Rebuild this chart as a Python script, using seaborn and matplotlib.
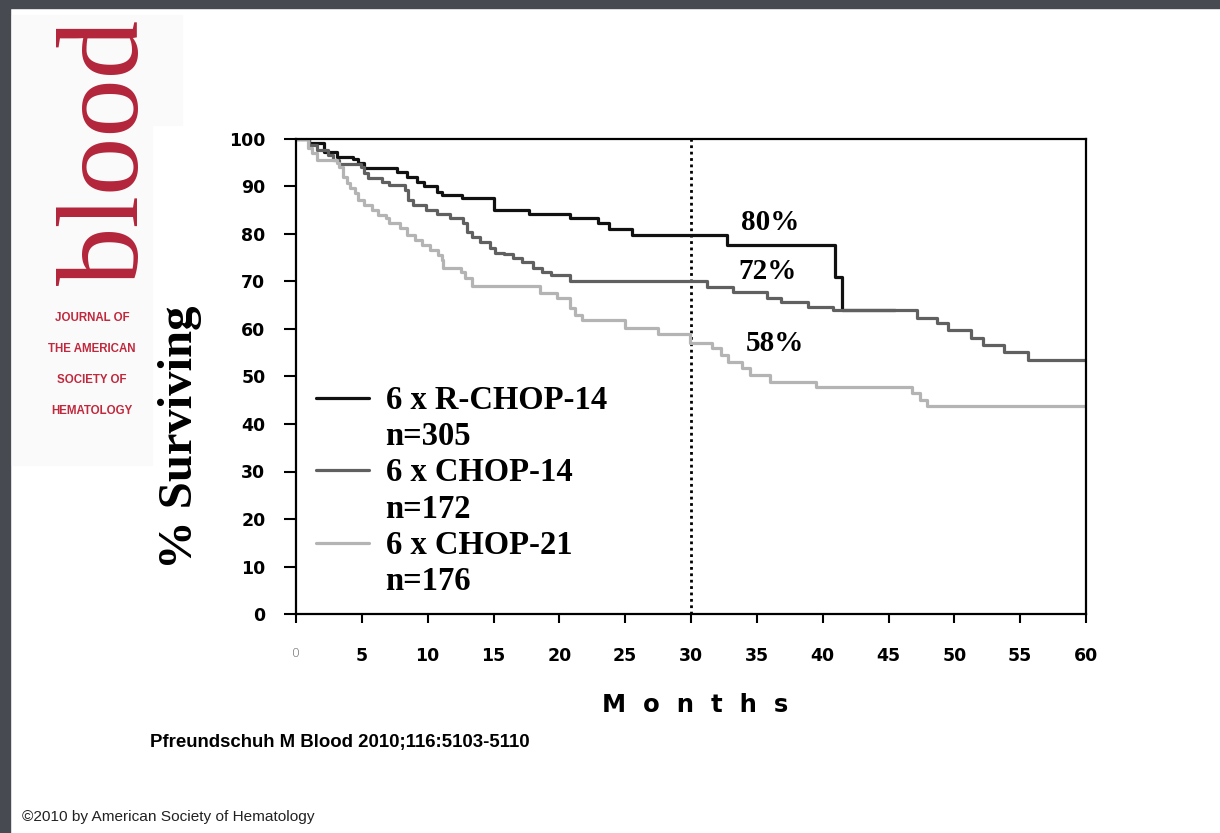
import matplotlib
matplotlib.use("Agg")
import matplotlib.pyplot as plt
import seaborn as sns
import pandas as pd
from matplotlib.lines import Line2D
from matplotlib.patches import Rectangle

# ---------------- data ----------------
groups = ["6 x R-CHOP-14", "6 x CHOP-14", "6 x CHOP-21"]
n_labels = ["n=305", "n=172", "n=176"]
colors = ["#111111", "#606060", "#b4b4b4"]

rchop14_t = [0, 1.0, 2.1, 3.1, 4.3, 4.7, 5.2, 7.7, 8.4, 9.2, 9.7, 10.7, 11.1, 12.6,
             15.0, 17.7, 20.8, 22.9, 23.8, 25.5, 32.7, 40.9, 41.5, 45.5]
rchop14_s = [100, 99.2, 97.3, 96.2, 95.8, 95.0, 93.9, 93.0, 92.0, 91.0, 90.0, 88.8, 88.2, 87.6,
             85.0, 84.2, 83.4, 82.3, 81.0, 79.8, 77.7, 71.0, 64.0, 64.0]

chop14_t = [0, 1.0, 1.6, 2.4, 2.8, 3.3, 4.9, 5.2, 5.5, 6.5, 7.1, 8.3, 8.5, 8.9, 9.9, 10.7,
            11.7, 12.7, 13.0, 13.4, 14.0, 14.7, 15.1, 15.8, 16.5, 17.2, 18.0, 18.7, 19.4,
            20.8, 31.2, 33.2, 35.8, 36.8, 38.9, 40.8, 47.2, 48.7, 49.5, 51.3, 52.2, 53.8,
            55.6, 60]
chop14_s = [100, 98.7, 97.7, 96.6, 95.6, 94.7, 94.0, 92.8, 91.8, 91.0, 90.3, 89.3, 87.2, 86.1,
            85.0, 84.2, 83.4, 82.3, 80.4, 79.4, 78.3, 77.0, 76.0, 75.8, 75.0, 74.0, 72.8, 72.0,
            71.4, 70.0, 68.8, 67.8, 66.5, 65.7, 64.6, 63.9, 62.3, 61.3, 59.8, 58.1, 56.6, 55.2,
            53.5, 53.5]

chop21_t = [0, 0.9, 1.2, 1.6, 3.1, 3.3, 3.6, 3.9, 4.1, 4.5, 4.7, 5.2, 5.8, 6.2, 6.8, 7.1,
            7.9, 8.4, 9.0, 9.6, 10.2, 10.8, 11.1, 11.2, 12.5, 12.8, 13.4, 18.5, 19.8, 20.8,
            21.2, 21.7, 25.0, 27.5, 29.9, 31.6, 32.3, 32.8, 33.9, 34.5, 36.0, 39.5, 46.8,
            47.4, 47.9, 60]
chop21_s = [100, 98.0, 97.0, 95.6, 95.0, 94.0, 92.0, 90.7, 89.7, 88.6, 87.2, 86.1, 85.0, 84.0,
            83.4, 82.3, 81.3, 79.8, 78.7, 77.7, 76.6, 75.6, 74.5, 72.8, 72.0, 70.7, 69.0, 67.6,
            66.5, 64.4, 63.0, 61.9, 60.2, 59.0, 57.0, 56.0, 54.5, 53.0, 51.8, 50.3, 48.8, 47.8,
            46.5, 45.0, 43.8, 43.8]

pct_labels = ["80%", "72%", "58%"]
pct_x = [36.0, 35.8, 36.4]
pct_y = [82.5, 72.0, 57.0]

x_ticks = [0, 5, 10, 15, 20, 25, 30, 35, 40, 45, 50, 55, 60]
y_ticks = [0, 10, 20, 30, 40, 50, 60, 70, 80, 90, 100]
landmark = 30

# ---------------- build frame ----------------
frames = []
for g, t, s in zip(groups, [rchop14_t, chop14_t, chop21_t], [rchop14_s, chop14_s, chop21_s]):
    frames.append(pd.DataFrame({"Months": t, "Surv": s, "Group": g}))
df = pd.concat(frames, ignore_index=True)

sns.set_theme(style="white")
plt.rcParams["font.family"] = ["DejaVu Sans"]
plt.rcParams["text.color"] = "black"
plt.rcParams["axes.labelcolor"] = "black"
plt.rcParams["xtick.color"] = "black"
plt.rcParams["ytick.color"] = "black"

fig = plt.figure(figsize=(12.2, 8.33), dpi=100)
fig.patch.set_facecolor("white")

# window border
fig.patches.append(Rectangle((0, 1 - 8 / 833), 1, 8 / 833, transform=fig.transFigure,
                             color="#474a51", zorder=0))
fig.patches.append(Rectangle((0, 0), 10 / 1220, 1, transform=fig.transFigure,
                             color="#474a51", zorder=0))
# logo panel
fig.patches.append(Rectangle((12 / 1220, 1 - 125 / 833), 170 / 1220, 110 / 833,
                             transform=fig.transFigure, color="#fafafa", zorder=0))
fig.patches.append(Rectangle((12 / 1220, 1 - 465 / 833), 140 / 1220, 340 / 833,
                             transform=fig.transFigure, color="#fafafa", zorder=0))

ax = fig.add_axes([296 / 1220, 1 - 614 / 833, 790 / 1220, 475 / 833])

sns.lineplot(data=df, x="Months", y="Surv", hue="Group", hue_order=groups,
             palette=dict(zip(groups, colors)), estimator=None, sort=False,
             drawstyle="steps-post", linewidth=2.3, legend=False, ax=ax)

ax.axvline(landmark, color="black", linestyle=(0, (1, 1.3)), linewidth=2.0, zorder=1)

ax.set_xlim(0, 60)
ax.set_ylim(0, 100)
ax.set_xticks(x_ticks)
ax.set_yticks(y_ticks)
xlabels = [str(v) for v in x_ticks]
ax.set_xticklabels(xlabels)
ax.set_xlabel("")
ax.set_ylabel("")
for sp in ax.spines.values():
    sp.set_visible(True)
    sp.set_color("black")
    sp.set_linewidth(1.6)

ax.tick_params(axis="y", which="major", direction="out", length=9, width=1.5,
               pad=13, left=True, colors="black", labelsize=12.5)
ax.tick_params(axis="x", which="major", direction="out", length=6.5, width=1.5,
               pad=17, bottom=True, colors="black", labelsize=12.5)
for lab in ax.get_yticklabels() + ax.get_xticklabels():
    lab.set_fontweight("bold")
    lab.set_family("DejaVu Sans")
xl0 = ax.get_xticklabels()[0]
xl0.set_fontweight("light")
xl0.set_fontsize(9)
xl0.set_color("#555555")

# percentage annotations
for lab, x, y in zip(pct_labels, pct_x, pct_y):
    ax.text(x, y, lab, ha="center", va="center", fontsize=21, fontweight="bold",
            family="Liberation Serif", color="black")

# legend (series line + label, then n= line)
handles, labels = [], []
for g, n, c in zip(groups, n_labels, colors):
    handles.append(Line2D([], [], color=c, linewidth=2.3))
    labels.append(g)
    handles.append(Line2D([], [], color="none"))
    labels.append(n)
leg = ax.legend(handles, labels, loc="upper left", bbox_to_anchor=(0.025, 0.482),
                frameon=False, borderpad=0, borderaxespad=0, handlelength=1.62,
                handletextpad=0.52, labelspacing=0.16, labelcolor="black",
                prop={"family": "Liberation Serif", "weight": "bold", "size": 23.5})

# axis titles
fig.text(695 / 1220, 1 - 705 / 833, "M  o  n  t  h  s", ha="center", va="center",
         fontsize=17.5, fontweight="bold", family="DejaVu Sans")
fig.text(180 / 1220, 1 - 437 / 833, "% Surviving", ha="center", va="center", rotation=90,
         fontsize=35, fontweight="bold", family="Liberation Serif")

# logo
red = "#b3253b"
fig.text(110 / 1220, 1 - 152 / 833, "blood", ha="center", va="center", rotation=90,
         fontsize=84, family="Liberation Serif", color=red)
for txt, yy in zip(["JOURNAL OF", "THE AMERICAN", "SOCIETY OF", "HEMATOLOGY"],
                   [318, 349, 380, 411]):
    fig.text(92 / 1220, 1 - yy / 833, txt, ha="center", va="center", fontsize=8.3,
             fontweight="bold", family="Liberation Sans", color="#c0283d")

# citation / copyright
fig.text(150 / 1220, 1 - 743 / 833, "Pfreundschuh M Blood 2010;116:5103-5110", ha="left",
         va="center", fontsize=13.4, fontweight="bold", family="Liberation Sans")
fig.text(22 / 1220, 1 - 817 / 833, "\u00a92010 by American Society of Hematology", ha="left",
         va="center", fontsize=11.1, family="Liberation Sans", color="#222222")

fig.savefig("out.png", dpi=100, facecolor="white")
